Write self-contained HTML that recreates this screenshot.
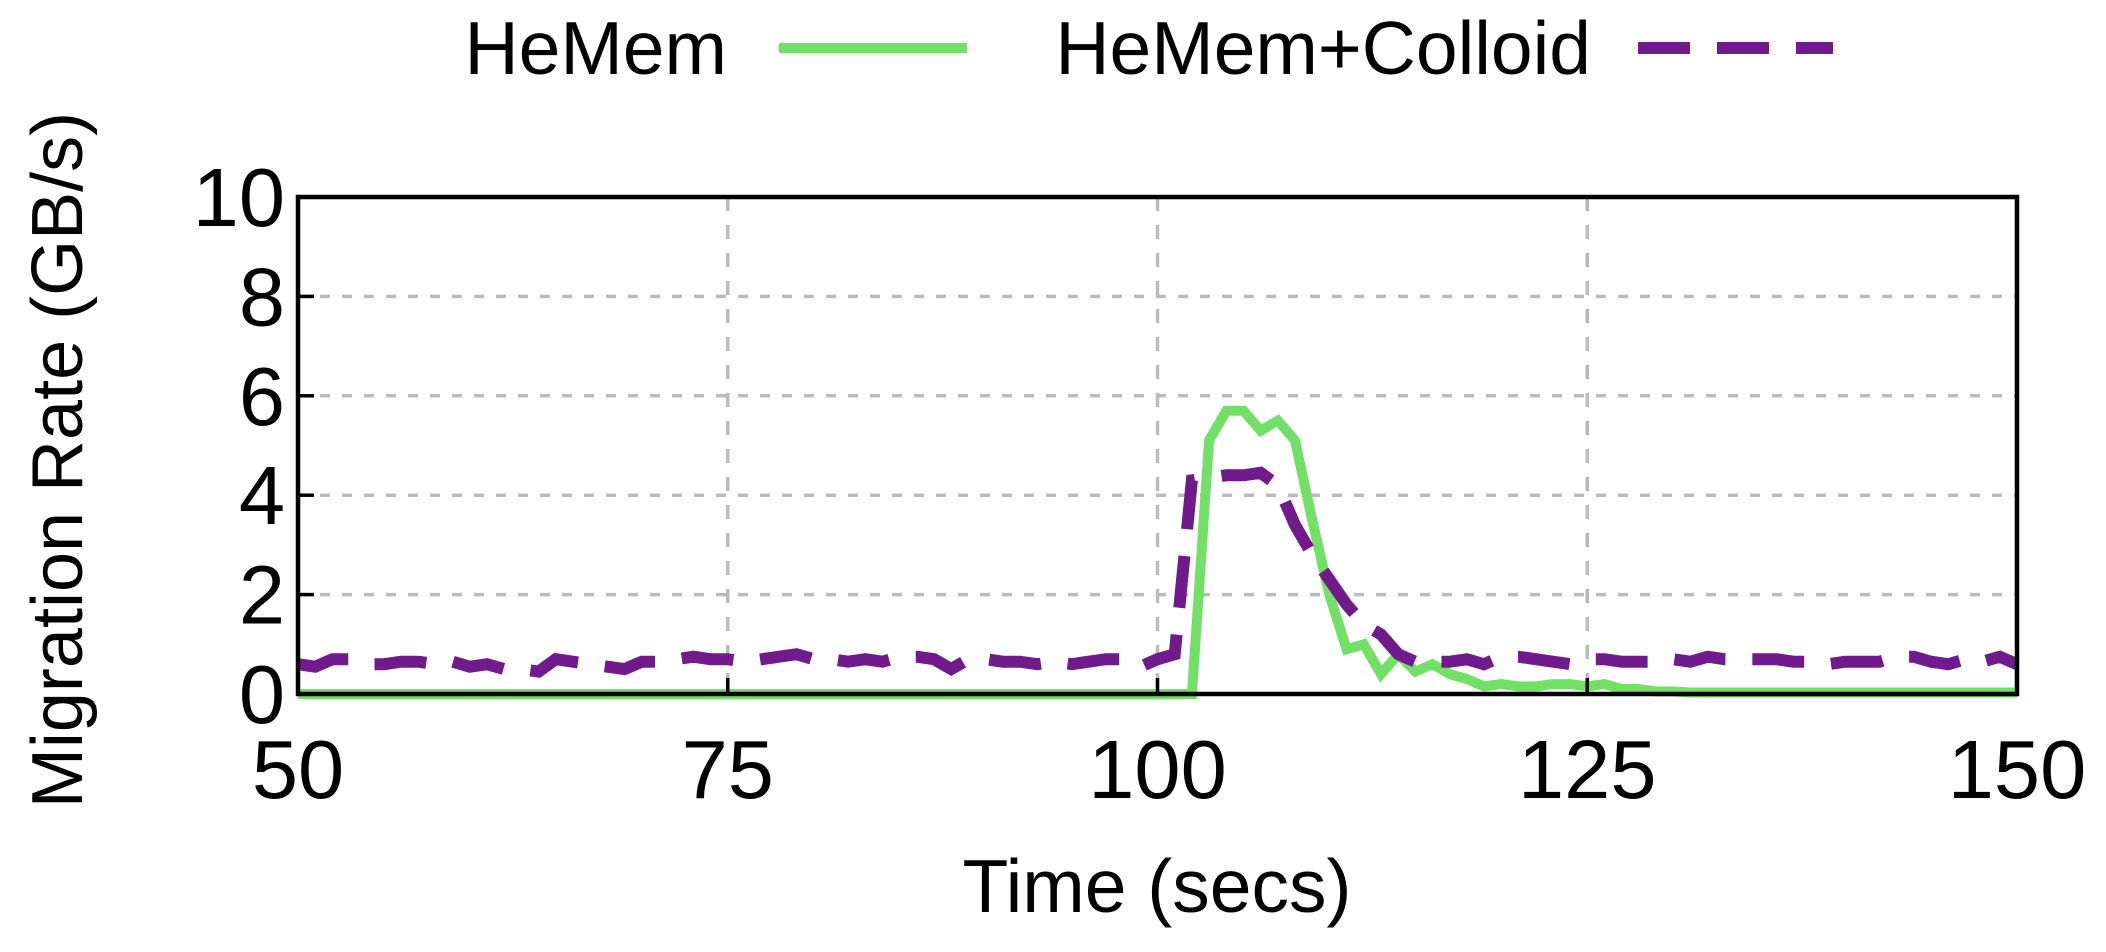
<!DOCTYPE html>
<html><head><meta charset="utf-8"><style>
html,body{margin:0;padding:0;background:#fff;width:2106px;height:952px;overflow:hidden}
svg text{font-family:"Liberation Sans",sans-serif;fill:#000}
</style></head><body>
<svg id="chart" width="2106" height="952" viewBox="0 0 2106 952" xmlns="http://www.w3.org/2000/svg">
<g id="grid"></g>
<g id="series"></g>
<rect x="298" y="197" width="1719" height="497" fill="none" stroke="#000" stroke-width="4.5"/>
<g id="ticks"></g>
<text transform="translate(82,460) rotate(-90)" text-anchor="middle" font-size="72">Migration Rate (GB/s)</text>
<text x="1157" y="912" text-anchor="middle" font-size="75">Time (secs)</text>
<g>
<g>
<text x="727" y="74" text-anchor="end" font-size="75">HeMem</text>
<line x1="779" y1="48" x2="967" y2="48" stroke="#72e066" stroke-width="10"/>
</g>
<g>
<text x="1591" y="74" text-anchor="end" font-size="75">HeMem+Colloid</text>
<line x1="1638" y1="48" x2="1833" y2="48" stroke="#701a8c" stroke-width="12" stroke-dasharray="52,27"/>
</g>
</g>
</svg>
<script>
const xTicks=[50,75,100,125,150];
const yTicks=[0,2,4,6,8,10];
const times=[];for(let t=50;t<=150;t++)times.push(t);
const hemem=[0,0,0,0,0,0,0,0,0,0,0,0,0,0,0,0,0,0,0,0,0,0,0,0,0,0,0,0,0,0,0,0,0,0,0,0,0,0,0,0,0,0,0,0,0,0,0,0,0,0,0,0,0,
5.1,5.7,5.7,5.3,5.5,5.1,3.5,2.0,0.9,1.0,0.4,0.8,0.45,0.6,0.4,0.3,0.15,0.2,0.15,0.15,0.2,0.2,0.15,0.2,0.1,0.1,0.05,0.05,
0.03,0.03,0.03,0.03,0.03,0.03,0.03,0.03,0.03,0.03,0.03,0.03,0.03,0.03,0.03,0.03,0.03,0.03,0.03,0.03];
const colloid=[0.6,0.55,0.7,0.7,0.6,0.6,0.65,0.65,0.6,0.65,0.55,0.6,0.5,0.5,0.45,0.7,0.65,0.6,0.55,0.5,0.65,0.65,0.7,0.75,0.7,0.7,0.65,0.7,0.75,0.8,0.7,0.7,0.65,0.7,0.65,0.75,0.75,0.7,0.5,0.7,0.7,0.65,0.65,0.6,0.65,0.6,0.65,0.7,0.7,0.55,0.7,
0.8,4.3,4.35,4.4,4.4,4.45,4.2,3.4,2.8,2.3,1.8,1.4,1.2,0.8,0.65,
0.65,0.65,0.7,0.6,0.75,0.75,0.7,0.65,0.6,0.7,0.7,0.65,0.65,0.65,0.7,0.65,0.75,0.7,0.7,0.7,0.7,0.65,0.65,0.6,0.65,0.65,0.65,0.75,0.75,0.65,0.6,0.7,0.65,0.75,0.6];
const L=298,R=2017,T=197,B=694;
const xs=v=>L+(v-50)/100*(R-L);
const ys=v=>B-v/10*(B-T);
const NS='http://www.w3.org/2000/svg';
function mk(tag,attrs,parent){const e=document.createElementNS(NS,tag);for(const k in attrs)e.setAttribute(k,attrs[k]);parent.appendChild(e);return e;}
const grid=document.getElementById('grid'),ticks=document.getElementById('ticks'),series=document.getElementById('series');
yTicks.forEach(v=>{
 if(v>0&&v<10){const g=mk('line',{x1:L,x2:R,y1:ys(v),y2:ys(v),stroke:'#bbb','stroke-width':3.5,'stroke-dasharray':'10,12'},grid);
 
 }
 const tk=mk('line',{x1:L,x2:L+16,y1:ys(v),y2:ys(v),stroke:'#000','stroke-width':3.5},ticks);
 
 
 const t=mk('text',{x:285,y:ys(v)+29,'text-anchor':'end','font-size':83},ticks);t.textContent=v;
 
 
});
xTicks.forEach(v=>{
 if(v>50&&v<150){const g=mk('line',{x1:xs(v),x2:xs(v),y1:T,y2:B,stroke:'#bbb','stroke-width':3.5,'stroke-dasharray':'14,14'},grid);
 
 }
 const tk=mk('line',{x1:xs(v),x2:xs(v),y1:B,y2:B-16,stroke:'#000','stroke-width':3.5},ticks);
 
 
 const t=mk('text',{x:xs(v),y:798,'text-anchor':'middle','font-size':83},ticks);t.textContent=v;
 
 
});
function path(vals){return vals.map((v,i)=>(i?'L':'M')+xs(times[i]).toFixed(1)+','+ys(v).toFixed(1)).join(' ');}
const p1=mk('path',{d:path(hemem),fill:'none',stroke:'#72e066','stroke-width':10,'stroke-linejoin':'miter'},series);


const p2=mk('path',{d:path(colloid),fill:'none',stroke:'#701a8c','stroke-width':12,'stroke-dasharray':'52,27'},series);


</script>
</body></html>
